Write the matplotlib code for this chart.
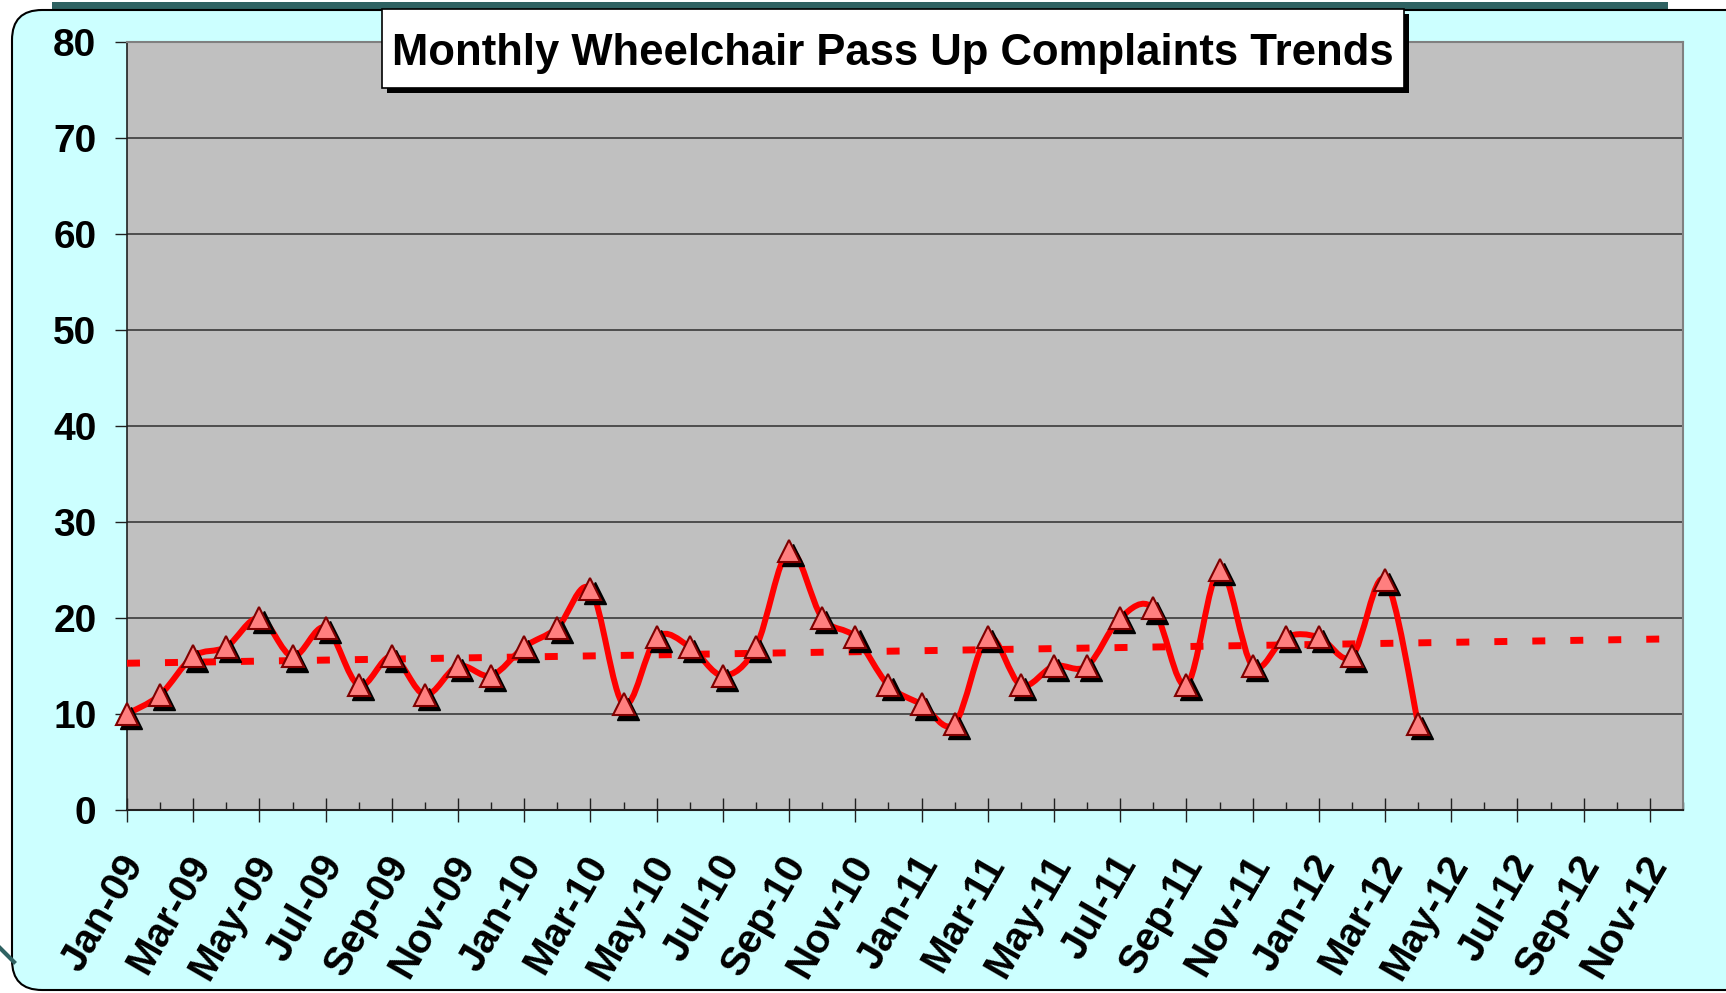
import numpy as np
import matplotlib
matplotlib.use("Agg")
import matplotlib.pyplot as plt
from matplotlib.path import Path
from matplotlib.patches import PathPatch, FancyBboxPatch, Rectangle
from matplotlib.transforms import offset_copy, ScaledTranslation

plt.rcParams['font.family'] = ['Liberation Sans', 'DejaVu Sans']
plt.rcParams['font.weight'] = 'bold'

# --- Data: monthly wheelchair pass up complaints (Jan-09 .. Apr-12) ---
months = ["Jan-09", "Feb-09", "Mar-09", "Apr-09", "May-09", "Jun-09", "Jul-09", "Aug-09",
          "Sep-09", "Oct-09", "Nov-09", "Dec-09", "Jan-10", "Feb-10", "Mar-10", "Apr-10",
          "May-10", "Jun-10", "Jul-10", "Aug-10", "Sep-10", "Oct-10", "Nov-10", "Dec-10",
          "Jan-11", "Feb-11", "Mar-11", "Apr-11", "May-11", "Jun-11", "Jul-11", "Aug-11",
          "Sep-11", "Oct-11", "Nov-11", "Dec-11", "Jan-12", "Feb-12", "Mar-12", "Apr-12"]
complaints = [10, 12, 16, 17, 20, 16, 19, 13, 16, 12, 15, 14,
              17, 19, 23, 11, 18, 17, 14, 17, 27, 20, 18, 13,
              11, 9, 18, 13, 15, 15, 20, 21, 13, 25, 15, 18,
              18, 16, 24, 9]
# axis runs to Dec-12, labels every second month
tick_labels = ["Jan-09", "Mar-09", "May-09", "Jul-09", "Sep-09", "Nov-09",
               "Jan-10", "Mar-10", "May-10", "Jul-10", "Sep-10", "Nov-10",
               "Jan-11", "Mar-11", "May-11", "Jul-11", "Sep-11", "Nov-11",
               "Jan-12", "Mar-12", "May-12", "Jul-12", "Sep-12", "Nov-12"]
n_axis_months = 48

W, H = 1726, 993
fig = plt.figure(figsize=(W / 100, H / 100), dpi=100)
fig.patch.set_facecolor('white')

# --- background (cyan rounded panel) ---
bg = fig.add_axes([0, 0, 1, 1], zorder=0)
bg.set_xlim(0, W)
bg.set_ylim(H, 0)
bg.axis('off')
bg.add_patch(Rectangle((52, 2), 1616, 9, color='#2F6262', lw=0))
bg.plot([0, 14], [948, 962], color='#2F6262', lw=3)
bg.add_patch(FancyBboxPatch((12, 10), 1760, 980, boxstyle="round,pad=0,rounding_size=30",
                            fc='#CCFFFF', ec='black', lw=1.5))

# --- main plot ---
ax = fig.add_axes([127 / W, 1 - 810 / H, (1683 - 127) / W, (810 - 42) / H], zorder=1)
ax.set_facecolor('#C0C0C0')
ax.set_xlim(0, n_axis_months - 1)
ax.set_ylim(0, 80)

ax.set_yticks(range(0, 81, 10))
ax.yaxis.grid(True, color='#3A3A3A', lw=1.2)
ax.set_axisbelow(True)
for side in ['top', 'right']:
    ax.spines[side].set_color('#808080')
    ax.spines[side].set_linewidth(1.5)
ax.spines['left'].set_color('#202020')
ax.spines['bottom'].set_color('#202020')
ax.spines['left'].set_linewidth(1.2)
ax.spines['bottom'].set_linewidth(1.5)

ax.set_xticks(range(0, n_axis_months, 2))
ax.set_xticklabels(tick_labels, rotation=60, ha='right', va='top', rotation_mode='anchor')
ax.set_xticks(range(1, n_axis_months, 2), minor=True)
ax.tick_params(axis='x', which='major', direction='inout', length=17, width=1,
               color='#202020', pad=19, labelsize=29)
ax.tick_params(axis='x', which='minor', direction='in', length=6, width=1, color='#202020')
ax.tick_params(axis='y', direction='out', length=9, width=1, color='#202020', pad=13,
               labelsize=28)
# nudge rotated labels a little to the left so they end under the tick
shift = ScaledTranslation(-6 / 72, 0, fig.dpi_scale_trans)
for lbl in ax.get_xticklabels():
    lbl.set_transform(lbl.get_transform() + shift)

x = np.arange(len(complaints))
y = np.array(complaints, dtype=float)

# trend line (linear fit, projected to end of axis)
slope, intercept = np.polyfit(x, y, 1)
xt = np.array([0, n_axis_months - 1])
trend, = ax.plot(xt, intercept + slope * xt, color='red', lw=5, solid_capstyle='butt',
                 dash_capstyle='butt', zorder=3)
trend.set_dashes((1.87, 3.6))

# smoothed line (Catmull-Rom style bezier, like Excel's smoothed line)
pts = np.column_stack([x, y])
verts = [pts[0]]
codes = [Path.MOVETO]
for i in range(len(pts) - 1):
    p0 = pts[max(i - 1, 0)]
    p1 = pts[i]
    p2 = pts[i + 1]
    p3 = pts[min(i + 2, len(pts) - 1)]
    verts += [p1 + (p2 - p0) / 6, p2 - (p3 - p1) / 6, p2]
    codes += [Path.CURVE4] * 3
ax.add_patch(PathPatch(Path(verts, codes), fc='none', ec='red', lw=4.3,
                       capstyle='round', joinstyle='round', zorder=4))

# markers with black drop shadow
shadow_tr = offset_copy(ax.transData, fig=fig, x=3, y=-3, units='points')
ax.plot(x, y, ls='none', marker='^', ms=16, mfc='black', mec='black', mew=1,
        transform=shadow_tr, zorder=5, clip_on=False)
ax.plot(x, y, ls='none', marker='^', ms=16, mfc='#FF7F7F', mec='#800000', mew=1.5,
        zorder=6, clip_on=False)

# --- title box ---
ov = fig.add_axes([0, 0, 1, 1], zorder=2)
ov.set_xlim(0, W)
ov.set_ylim(H, 0)
ov.axis('off')
ov.patch.set_alpha(0)
ov.add_patch(Rectangle((387, 14), 1022, 79, fc='black', ec='none'))
ov.add_patch(Rectangle((382, 9), 1022, 79, fc='white', ec='black', lw=1.2))
ov.text(893, 53, "Monthly Wheelchair Pass Up Complaints Trends", ha='center', va='center',
        fontsize=31.4, fontweight='bold', color='black')

fig.savefig('out.png', dpi=100)
